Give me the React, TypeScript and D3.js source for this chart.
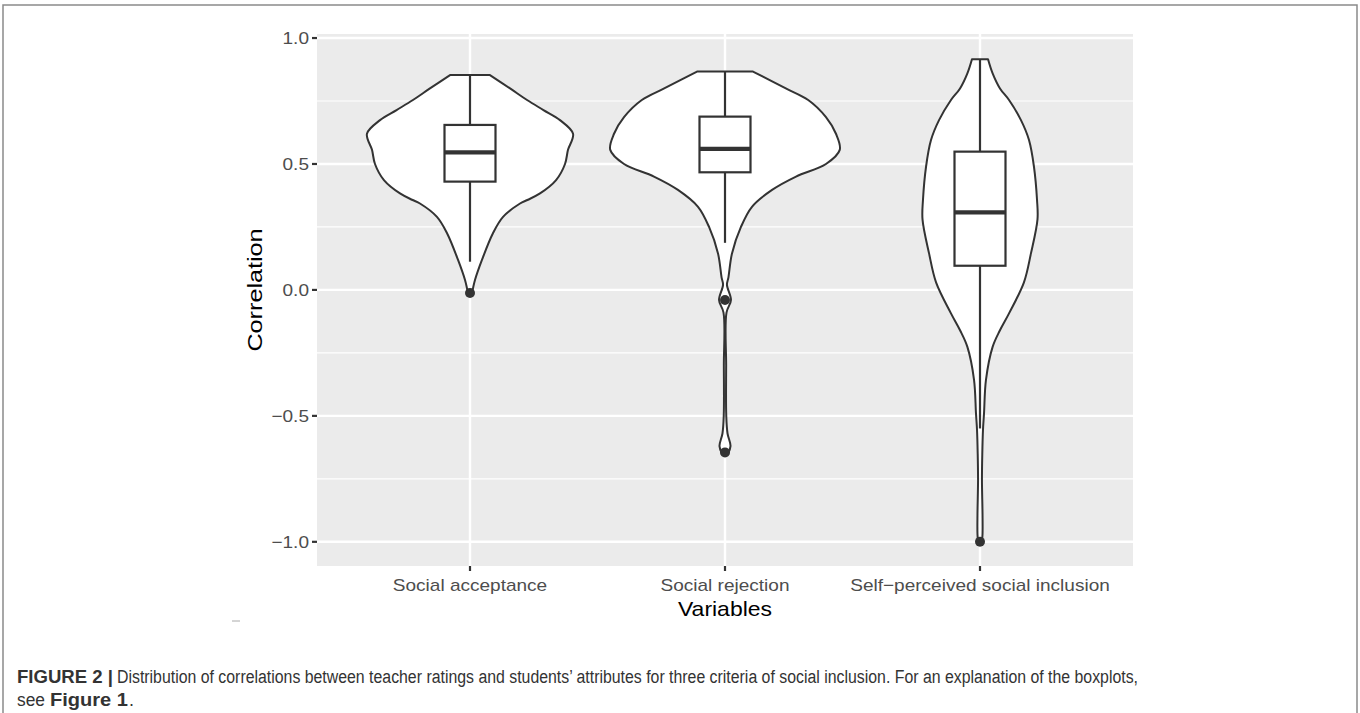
import React from 'react';
import * as d3 from 'd3';

// ---------- data ----------
const categories = ['Social acceptance', 'Social rejection', 'Self\u2212perceived social inclusion'];

// violin outlines: [correlation value, relative density (1 = widest violin)]
const violinAcceptance: [number, number][] = [
  [0.853, 0.174], [0.80, 0.349], [0.754, 0.497], [0.714, 0.64], [0.674, 0.784], [0.62, 0.898],
  [0.556, 0.854], [0.50, 0.828], [0.436, 0.75], [0.383, 0.61], [0.357, 0.5], [0.343, 0.436],
  [0.29, 0.288], [0.225, 0.2], [0.12, 0.105], [0.04, 0.044], [-0.015, 0.017],
];
const violinRejection: [number, number][] = [
  [0.867, 0.244], [0.80, 0.53], [0.754, 0.725], [0.686, 0.88], [0.62, 0.967], [0.556, 1.0],
  [0.50, 0.88], [0.45, 0.619], [0.397, 0.41], [0.33, 0.235], [0.25, 0.139], [0.145, 0.061],
  [0.05, 0.03], [0.02, 0.017], [-0.04, 0.052], [-0.09, 0.013], [-0.3, 0.01], [-0.5, 0.011],
  [-0.57, 0.022], [-0.62, 0.048], [-0.65, 0.026],
];
const violinSelf: [number, number][] = [
  [0.916, 0.07], [0.86, 0.11], [0.80, 0.174], [0.754, 0.253], [0.674, 0.357], [0.595, 0.427],
  [0.49, 0.47], [0.357, 0.497], [0.28, 0.501], [0.145, 0.444], [0.03, 0.383], [-0.093, 0.253],
  [-0.16, 0.174], [-0.226, 0.11], [-0.357, 0.052], [-0.49, 0.035], [-0.556, 0.026], [-0.65, 0.02],
  [-0.755, 0.017], [-0.89, 0.022], [-0.97, 0.022], [-1.0, 0.017],
];
const violins = [violinAcceptance, violinRejection, violinSelf];

// boxplot statistics: [lower whisker, Q1, median, Q3, upper whisker]
const boxAcceptance = [0.112, 0.43, 0.546, 0.655, 0.853];
const boxRejection = [0.187, 0.467, 0.56, 0.688, 0.867];
const boxSelf = [-0.55, 0.096, 0.308, 0.549, 0.916];
const boxes = [boxAcceptance, boxRejection, boxSelf];

const outliersAcceptance = [-0.012];
const outliersRejection = [-0.04, -0.645];
const outliersSelf = [-1.0];
const outliers = [outliersAcceptance, outliersRejection, outliersSelf];

const majorTicks = [-1.0, -0.5, 0.0, 0.5, 1.0];
const minorTicks = [-0.75, -0.25, 0.25, 0.75];
const yDomain: [number, number] = [-1.096, 1.016];

const captionBold = 'FIGURE 2 |';
const captionLine1 = 'Distribution of correlations between teacher ratings and students\u2019 attributes for three criteria of social inclusion. For an explanation of the boxplots,';
const captionLine2a = 'see';
const captionLine2b = 'Figure 1';
const captionLine2c = '.';

// ---------- layout ----------
const W = 1360;
const H = 713;
const panel = { left: 317, right: 1133, top: 34, bottom: 566 };
const FONT = "'Liberation Sans', Arial, Helvetica, sans-serif";
const INK = '#333333';
const SX = 1.12; // horizontal stretch of the original figure's text

export default function App() {
  const y = d3.scaleLinear().domain(yDomain).range([panel.bottom, panel.top]);
  const x = d3.scalePoint<string>().domain(categories).range([panel.left, panel.right]).padding(0.6);
  const step = x.step();
  const wScale = d3.scaleLinear().domain([0, 1]).range([0, 0.45 * step]);
  const boxHalf = 0.1 * step;
  const fmt = (v: number) => d3.format('.1f')(v).replace('-', '\u2212');

  return (
    <svg width={W} height={H} style={{ position: 'absolute', left: 0, top: 0, background: '#fff' }}
      fontFamily={FONT}>
      {/* frame */}
      <path d={`M3,${H + 5} L3,5 L1357,5 L1357,${H + 5}`} fill="none" stroke="#8a8a8a" strokeWidth={1.5} />

      {/* panel background */}
      <rect x={panel.left} y={panel.top} width={panel.right - panel.left} height={panel.bottom - panel.top} fill="#EBEBEB" />
      {minorTicks.map((t) => (
        <line key={'mi' + t} x1={panel.left} x2={panel.right} y1={y(t)} y2={y(t)} stroke="#fff" strokeWidth={1.2} />
      ))}
      {majorTicks.map((t) => (
        <line key={'ma' + t} x1={panel.left} x2={panel.right} y1={y(t)} y2={y(t)} stroke="#fff" strokeWidth={2.4} />
      ))}
      {categories.map((c) => (
        <line key={'vx' + c} x1={x(c)} x2={x(c)} y1={panel.top} y2={panel.bottom} stroke="#fff" strokeWidth={2.4} />
      ))}

      {/* violins */}
      {categories.map((c, i) => {
        const cx = x(c) as number;
        const area = d3.area<[number, number]>()
          .y((d) => y(d[0]))
          .x0((d) => cx - wScale(d[1]))
          .x1((d) => cx + wScale(d[1]))
          .curve(d3.curveCatmullRom.alpha(0.5));
        return (
          <path key={'v' + c} d={area(violins[i]) || ''} fill="#fff" stroke={INK} strokeWidth={2} strokeLinejoin="round" />
        );
      })}

      {/* boxplots */}
      {categories.map((c, i) => {
        const cx = x(c) as number;
        const [lo, q1, med, q3, hi] = boxes[i];
        return (
          <g key={'b' + c}>
            <line x1={cx} x2={cx} y1={y(hi)} y2={y(q3)} stroke={INK} strokeWidth={2.2} />
            <line x1={cx} x2={cx} y1={y(q1)} y2={y(lo)} stroke={INK} strokeWidth={2.2} />
            <rect x={cx - boxHalf} y={y(q3)} width={2 * boxHalf} height={y(q1) - y(q3)} fill="#fff" stroke={INK} strokeWidth={2.2} />
            <line x1={cx - boxHalf} x2={cx + boxHalf} y1={y(med)} y2={y(med)} stroke={INK} strokeWidth={4.2} />
            {outliers[i].map((o) => (
              <circle key={'o' + o} cx={cx} cy={y(o)} r={5} fill={INK} />
            ))}
          </g>
        );
      })}

      {/* y axis */}
      {majorTicks.map((t) => (
        <g key={'yt' + t}>
          <line x1={panel.left - 5} x2={panel.left} y1={y(t)} y2={y(t)} stroke={INK} strokeWidth={2.2} />
          <text transform={`translate(${panel.left - 8},${y(t)}) scale(${SX},1)`} dy="0.36em" textAnchor="end" fontSize={17} fill="#4D4D4D">{fmt(t)}</text>
        </g>
      ))}
      <text transform={`translate(262,${(panel.top + panel.bottom) / 2 - 10}) rotate(-90) scale(1.2,1)`} textAnchor="middle" fontSize={21} fill="#000">Correlation</text>

      {/* x axis */}
      {categories.map((c) => (
        <g key={'xt' + c}>
          <line x1={x(c)} x2={x(c)} y1={panel.bottom} y2={panel.bottom + 5} stroke={INK} strokeWidth={2.2} />
          <text transform={`translate(${x(c)},591) scale(${SX},1)`} textAnchor="middle" fontSize={17} fill="#4D4D4D">{c}</text>
        </g>
      ))}
      <text transform={`translate(${(panel.left + panel.right) / 2},616) scale(${SX},1)`} textAnchor="middle" fontSize={20.5} fill="#000">Variables</text>

      {/* stray mark */}
      <line x1={232} x2={240} y1={621} y2={621} stroke="#aaa" strokeWidth={1} />

      {/* caption */}
      <text x={17} y={683} fontSize={18} fontWeight="bold" fill="#333" textLength={96} lengthAdjust="spacingAndGlyphs">{captionBold}</text>
      <text x={117} y={683} fontSize={18} fill="#333" textLength={1021} lengthAdjust="spacingAndGlyphs">{captionLine1}</text>
      <text x={17} y={706} fontSize={18} fill="#333" textLength={28} lengthAdjust="spacingAndGlyphs">{captionLine2a}</text>
      <text x={50} y={706} fontSize={18} fontWeight="bold" fill="#333" textLength={78} lengthAdjust="spacingAndGlyphs">{captionLine2b}</text>
      <text x={129} y={706} fontSize={18} fill="#333">{captionLine2c}</text>
    </svg>
  );
}
